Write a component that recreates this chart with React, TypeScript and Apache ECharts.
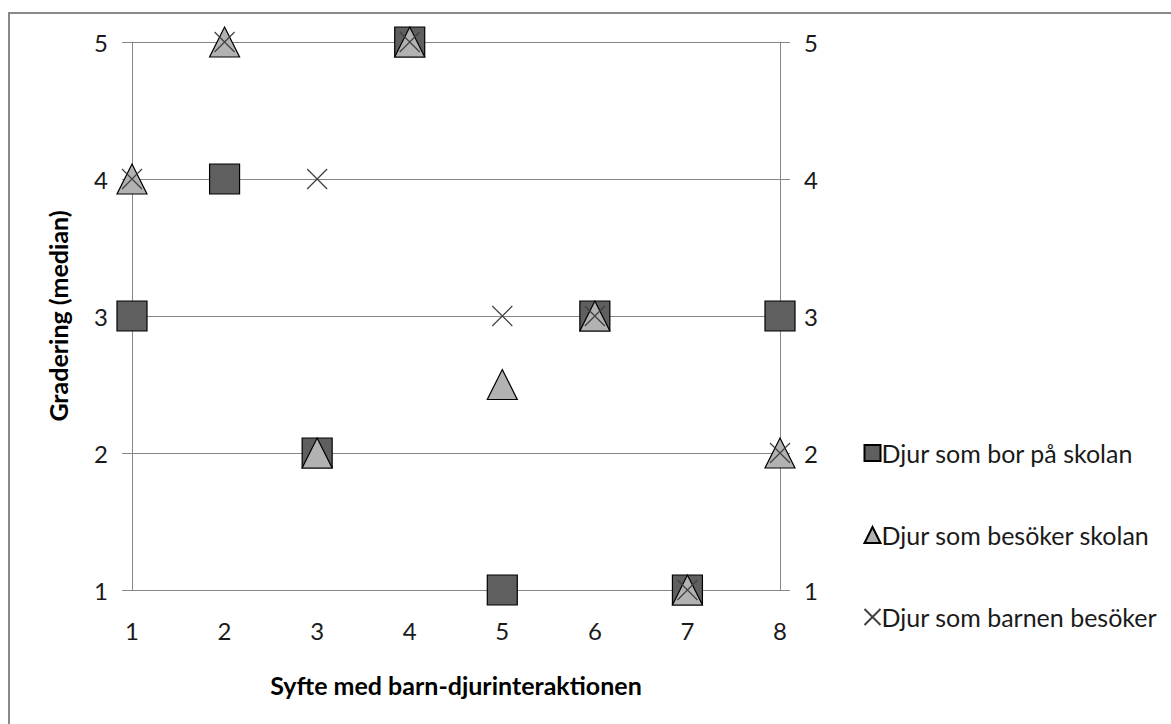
import React, { useEffect, useRef } from "react";
import * as echarts from "echarts";

const xTicks = [1, 2, 3, 4, 5, 6, 7, 8];
const seriesNames = ["Djur som bor på skolan", "Djur som besöker skolan", "Djur som barnen besöker"];
const borPaSkolan = [3, 4, 2, 5, 1, 3, 1, 3];
const besokerSkolan = [4, 5, 2, 5, 2.5, 3, 1, 2];
const barnenBesoker = [4, 5, 4, 5, 3, 3, 1, 2];
const yTicks = [1, 2, 3, 4, 5];

const FONT = "Lato";

export default function App() {
  const ref = useRef<HTMLDivElement>(null);
  useEffect(() => {
    const chart = echarts.init(ref.current!, null, { renderer: "svg" });
    const toPts = (vals: number[]) => vals.map((v, i) => [xTicks[i], v]);
    const yAxisCommon = {
      type: "value",
      min: yTicks[0],
      max: yTicks[yTicks.length - 1],
      interval: 1,
      axisLine: { show: true, lineStyle: { color: "#868686", width: 1 } },
      axisTick: { show: true, length: 10, lineStyle: { color: "#868686" } },
      axisLabel: { color: "#1a1a1a", fontSize: 24, fontFamily: FONT, margin: 24 },
    };
    chart.setOption({
      animation: false,
      backgroundColor: "#ffffff",
      graphic: [
        {
          type: "rect",
          shape: { x: 9, y: 13, width: 1250, height: 800 },
          style: { fill: "none", stroke: "#898989", lineWidth: 2 },
          silent: true,
        },
      ],
      grid: { left: 132, right: 391, top: 42, bottom: 134 },
      xAxis: {
        type: "value",
        min: 1,
        max: 8,
        interval: 1,
        name: "Syfte med barn-djurinteraktionen",
        nameLocation: "middle",
        nameGap: 82,
        nameTextStyle: { fontSize: 25, fontWeight: "bold", color: "#000", fontFamily: FONT },
        axisLine: { show: false },
        axisTick: { show: false },
        splitLine: { show: false },
        axisLabel: { color: "#1a1a1a", fontSize: 24, fontFamily: FONT, margin: 28 },
      },
      yAxis: [
        {
          ...yAxisCommon,
          position: "left",
          name: "Gradering (median)",
          nameLocation: "middle",
          nameGap: 62,
          nameRotate: 90,
          nameTextStyle: { fontSize: 25, fontWeight: "bold", color: "#000", fontFamily: FONT },
          splitLine: { show: true, lineStyle: { color: "#868686", width: 1 } },
        },
        {
          ...yAxisCommon,
          position: "right",
          splitLine: { show: false },
        },
      ],
      legend: {
        orient: "vertical",
        left: 857,
        top: 435,
        itemGap: 56,
        itemWidth: 16,
        itemHeight: 16,
        textStyle: {
          fontSize: 25,
          lineHeight: 26,
          color: "#1a1a1a",
          fontFamily: FONT,
          padding: [0, 0, 0, -4],
        },
        data: seriesNames,
      },
      series: [
        {
          name: seriesNames[0],
          type: "scatter",
          symbol: "rect",
          symbolSize: 30,
          itemStyle: { color: "#5f5f5f", borderColor: "#000", borderWidth: 1.2, opacity: 1 },
          data: toPts(borPaSkolan),
          z: 2,
        },
        {
          name: seriesNames[1],
          type: "scatter",
          symbol: "triangle",
          symbolSize: 30,
          itemStyle: { color: "#b2b2b2", borderColor: "#000", borderWidth: 1.2, opacity: 1 },
          data: toPts(besokerSkolan),
          z: 3,
        },
        {
          name: seriesNames[2],
          type: "scatter",
          symbol: "path://M0,0L20,20M20,0L0,20",
          symbolSize: 20,
          itemStyle: { color: "none", borderColor: "#404040", borderWidth: 1.2, opacity: 1 },
          data: toPts(barnenBesoker),
          z: 4,
        },
      ],
    });
    return () => chart.dispose();
  }, []);
  return (
    <div
      ref={ref}
      style={{ position: "fixed", left: 0, top: 0, width: 1171, height: 724, background: "#fff" }}
    />
  );
}
